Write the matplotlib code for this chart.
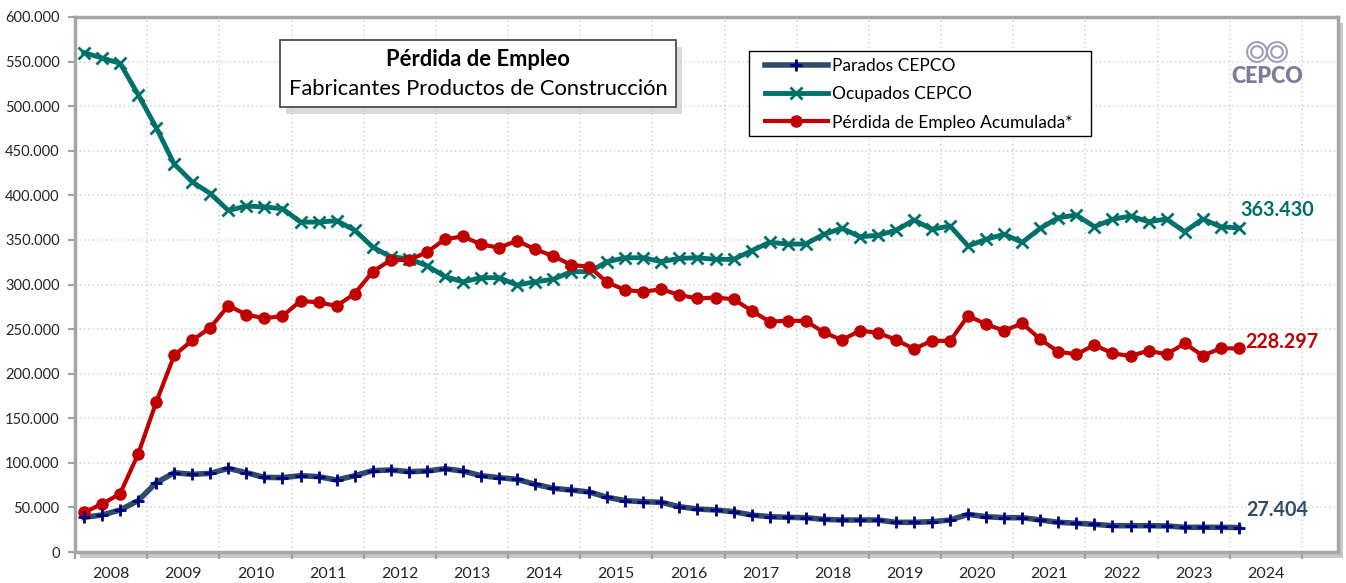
import matplotlib
matplotlib.use('Agg')
import matplotlib.pyplot as plt
from matplotlib.patches import Rectangle, Arc
from matplotlib.ticker import FuncFormatter, FixedLocator

plt.rcParams['font.family'] = ['Lato', 'DejaVu Sans']

years = list(range(2008, 2025))

# trimestral 2008T1 .. 2024T1 (miles)
parados = [38.9, 41.5, 47.1, 57.6, 77.7, 88.9, 87.1, 88.2, 93.8, 88.9, 83.7, 83.4,
           85.6, 84.5, 80.7, 85.6, 91.2, 92.0, 90.1, 90.8, 93.4, 90.8, 85.6, 83.4,
           81.5, 75.9, 71.4, 69.5, 67.3, 61.3, 57.6, 56.4, 55.7, 50.8, 48.2, 47.1,
           45.2, 41.5, 39.6, 38.9, 38.5, 36.6, 35.9, 35.9, 35.9, 33.3, 33.3, 34.0,
           35.9, 42.2, 39.6, 38.5, 38.5, 35.9, 33.3, 32.2, 31.0, 29.5, 29.5, 29.5,
           29.2, 27.7, 27.7, 27.7, 27.404]
ocupados = [560, 554, 548, 513, 476, 435, 415, 402, 383, 388, 387, 385,
            370, 370, 371.5, 361, 342, 331, 329, 321, 309, 303, 307.6, 307.6,
            299.4, 303, 305.8, 314.4, 314.4, 325.6, 330, 330, 325.6, 329.3, 330, 328.2,
            328.2, 337.9, 347.3, 345.4, 345.4, 356.3, 363, 353.6, 355.1, 360.8, 372.3, 361.9,
            365.6, 343.2, 350.7, 356.3, 347.3, 363, 374.9, 377.9, 364.8, 373.1, 376.8, 370.4,
            373.4, 359.2, 373.4, 364.8, 363.43]
perdida = [44.5, 53.8, 65.4, 109.9, 167.9, 220.6, 237.4, 251.6, 276.3, 266.2, 262.1, 264.7,
           281.5, 280, 275.9, 289.7, 314.4, 327.5, 327.5, 336.1, 350.7, 354, 345, 341.3,
           349.1, 339.5, 332, 321.9, 320, 302.3, 293.8, 291.9, 294.7, 288.2, 284.3, 285.4,
           283.5, 270.6, 258.3, 259.4, 259.1, 246.4, 237.7, 248.2, 245.9, 238, 227.7, 237,
           236.6, 265, 255.3, 248.2, 256.5, 238.5, 224.6, 221.7, 232.1, 222.8, 219.8, 225.8,
           221.7, 234, 220.2, 228.4, 228.297]

parados = [v * 1000 for v in parados]
ocupados = [v * 1000 for v in ocupados]
perdida = [v * 1000 for v in perdida]
q = list(range(len(parados)))

c_par_line = '#2E4B6A'
c_par_mark = '#000080'
c_ocu = '#00706B'
c_per = '#C00000'

fig = plt.figure(figsize=(13.46, 5.83), dpi=100)
L, R, T, B = 75, 1338, 17, 552
W, H = 1346, 583
ax = fig.add_axes([L / W, 1 - B / H, (R - L) / W, (B - T) / H])
ax.set_zorder(2)

# sombra del area de grafico
sh = Rectangle(((L + 5) / W, 1 - (B + 6) / H), (R - L) / W, (B - T) / H,
               transform=fig.transFigure, facecolor='#C8C8C8', edgecolor='none', zorder=0)
fig.patches.append(sh)
ax.set_facecolor('white')

ax.plot(q, parados, color=c_par_line, lw=4, zorder=3)
ax.plot(q, parados, linestyle='none', marker='+', ms=9, mew=2, color=c_par_mark, zorder=4,
        label='Parados CEPCO')
ax.plot(q, ocupados, color=c_ocu, lw=3.5, marker='x', ms=9, mew=2, zorder=3, label='Ocupados CEPCO')
ax.plot(q, perdida, color=c_per, lw=3, marker='o', ms=8, zorder=3,
        label='Pérdida de Empleo Acumulada*')

ax.set_xlim(-0.5, 69.5)
ax.set_ylim(0, 600000)
ax.yaxis.set_major_locator(FixedLocator(range(0, 600001, 50000)))
ax.yaxis.set_major_formatter(FuncFormatter(lambda v, p: f"{int(v):,}".replace(',', '.')))
ax.xaxis.set_major_locator(FixedLocator([-0.5 + 4 * k for k in range(18)]))
ax.xaxis.set_major_formatter(FuncFormatter(lambda v, p: ''))
ax.xaxis.set_minor_locator(FixedLocator([1.5 + 4 * k for k in range(len(years))]))
ax.set_xticklabels([str(y) for y in years], minor=True)
ax.tick_params(axis='x', which='minor', length=0, labelsize=11.5, pad=11, colors='#262626')
ax.tick_params(axis='x', which='major', length=5, color='#A0A0A0', width=1.5)
ax.tick_params(axis='y', length=5, color='#A0A0A0', width=1.5, labelsize=10.5,
               labelcolor='#262626', pad=6)

ax.grid(True, which='major', color='#D9D9D9', linestyle=':', lw=1.2)
ax.set_axisbelow(True)
for s in ax.spines.values():
    s.set_color('#A6A6A6')
    s.set_linewidth(2.5)


def px(x, y):
    return (x - L) / (R - L), (B - y) / (B - T)


# caja de titulo
x0, y0 = px(280, 107)
x1, y1 = px(676, 40)
ax.add_patch(Rectangle((x0 + 0.005, y0 - 0.014), x1 - x0, y1 - y0, transform=ax.transAxes,
                       facecolor='#C4C4C4', edgecolor='none', alpha=0.6, zorder=5))
ax.add_patch(Rectangle((x0, y0), x1 - x0, y1 - y0, transform=ax.transAxes,
                       facecolor='white', edgecolor='#404040', lw=1.2, zorder=6))
tx, ty = px(478, 60)
ax.text(tx, ty, 'Pérdida de Empleo', transform=ax.transAxes, ha='center', va='center',
        fontsize=15.8, fontweight='bold', color='black', zorder=7)
tx, ty = px(478, 89)
ax.text(tx, ty, 'Fabricantes Productos de Construcción', transform=ax.transAxes,
        ha='center', va='center', fontsize=15.8, color='black', zorder=7)

# leyenda (marco dibujado aparte)
fx0, fy0 = px(749, 136)
fx1, fy1 = px(1091, 51)
ax.add_patch(Rectangle((fx0, fy0), fx1 - fx0, fy1 - fy0, transform=ax.transAxes,
                       facecolor='white', edgecolor='black', lw=1.0, zorder=7))
lx, ly = px(760, 53)
leg = ax.legend(loc='upper left', bbox_to_anchor=(lx, ly), fontsize=12.5, frameon=False,
                handlelength=3.6, handletextpad=0.25,
                labelspacing=0.7, borderpad=0.3, borderaxespad=0)
leg.set_zorder(8)
h = leg.legend_handles
h[0].set_linestyle('-')
h[0].set_color(c_par_line)
h[0].set_linewidth(4)
h[0].set_markeredgecolor(c_par_mark)

# etiquetas finales
yt = ax.get_yaxis_transform()
ax.text(px(1240, 0)[0], 383500, '363.430', color=c_ocu, fontsize=14.2, fontweight='bold',
        va='center', ha='left', transform=yt)
ax.text(px(1245, 0)[0], 235500, '228.297', color=c_per, fontsize=14.2, fontweight='bold',
        va='center', ha='left', transform=yt)
ax.text(px(1246, 0)[0], 47100, '27.404', color=c_par_line, fontsize=14.2, fontweight='bold',
        va='center', ha='left', transform=yt)

# logo
fig.text(1267 / W, 1 - 76 / H, 'CEPCO', ha='center', va='center', fontsize=15.5,
         fontweight='heavy', color='#7E7A99', zorder=10)
for r in (0.010, 0.017):
    for cx in (1257, 1277):
        a = Arc((cx / W, 1 - 52 / H), r * 2 * H / W, r * 2, theta1=0, theta2=360,
                transform=fig.transFigure, color='#A19EB8', lw=1.5, zorder=10)
        fig.patches.append(a)

fig.savefig('out.png', dpi=100)
